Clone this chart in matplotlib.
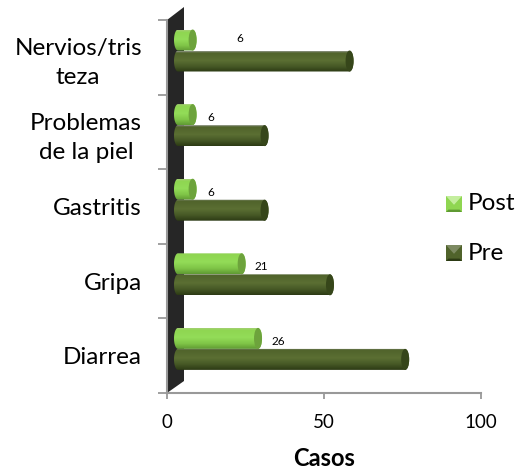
import numpy as np
import matplotlib
matplotlib.use("Agg")
import matplotlib.pyplot as plt
from matplotlib.colors import LinearSegmentedColormap
from matplotlib.patches import Polygon, Ellipse, Rectangle
from matplotlib.ticker import NullFormatter

plt.rcParams['font.family'] = ['Lato', 'DejaVu Sans']

categories = ["Nervios/tris\nteza", "Problemas\nde la piel", "Gastritis", "Gripa", "Diarrea"]
post_values = [6, 6, 6, 21, 26]
pre_values = [54, 28, 28, 48, 71]
x_ticks = [0, 50, 100]
series_names = ["Post", "Pre"]

W, H = 518, 470
fig = plt.figure(figsize=(W / 100, H / 100), dpi=100, facecolor="white")
ax = fig.add_axes([167 / W, (H - 393) / H, 314 / W, 373 / H])
n = len(categories)
ax.set_xlim(0, 100)
ax.set_ylim(n, 0)
PXX = 3.14      # pixels per x unit
PXY = 373 / n   # pixels per category band

# 3D projection of the original chart
floor_x = 7 / PXX
k = 3.27 / PXX
cap_pad = 3 / PXX
rx = 4 / PXX
bar_h = 21 / PXY
post_offset = 20 / PXY
pre_offset = 41 / PXY

post_cmap = LinearSegmentedColormap.from_list("post", [
    (0, "#a3cf73"), (0.10, "#8fd651"), (0.45, "#93dc58"), (0.75, "#7fc447"), (1, "#5f9a33")])
pre_cmap = LinearSegmentedColormap.from_list("pre", [
    (0, "#8f9585"), (0.08, "#50632b"), (0.45, "#5b6f33"), (0.75, "#455725"), (1, "#2c3a14")])
grad = np.linspace(0, 1, 64).reshape(-1, 1)

# back wall
wall = Polygon([(0, 0), (17 / PXX, -13 / PXY), (17 / PXX, n - 12 / PXY), (0, n)],
               closed=True, fc="#262626", ec="none", clip_on=False, zorder=1)
ax.add_patch(wall)


def cylinder(value, yc, cmap, cap, z):
    x0 = floor_x
    x1 = floor_x + value * k + cap_pad
    t = np.linspace(-np.pi / 2, np.pi / 2, 30)
    right = np.c_[x1 - rx + rx * np.cos(t), yc + bar_h / 2 * np.sin(t)]
    left = np.c_[x0 + rx - rx * np.cos(t[::-1]), yc + bar_h / 2 * np.sin(t[::-1])]
    outline = Polygon(np.r_[right, left], closed=True, fc="none", ec="none", zorder=z)
    ax.add_patch(outline)
    im = ax.imshow(grad, cmap=cmap, aspect="auto", zorder=z, interpolation="bilinear",
                   extent=(x0, x1, yc + bar_h / 2, yc - bar_h / 2), vmin=0, vmax=1)
    im.set_clip_path(outline)
    ax.add_patch(Ellipse((x1 - rx, yc), 2 * rx, bar_h, fc=cap, ec="none", zorder=z + 0.1))


for i in range(n):
    cylinder(post_values[i], i + post_offset, post_cmap, "#6da33c", 3)
    cylinder(pre_values[i], i + pre_offset, pre_cmap, "#36461a", 4)
    first = categories[i].startswith("Nervios")
    lx = floor_x + post_values[i] * k + cap_pad + 14 / PXX + (29 / PXX if first else 0)
    if post_values[i] > 6:
        lx += 2 / PXX
    ax.text(lx, i + (18 if first else 23) / PXY, str(post_values[i]),
            fontsize=8.5, ha="center", va="center", color="black", zorder=6)

# axes
for s in ("top", "right"):
    ax.spines[s].set_visible(False)
for s in ("left", "bottom"):
    ax.spines[s].set_color("#999999")
    ax.spines[s].set_linewidth(1.5)
    ax.spines[s].set_zorder(5)
ax.set_xticks(x_ticks)
ax.set_xticklabels([str(v) for v in x_ticks], fontsize=13.5, color="black")
ax.tick_params(axis="x", length=4.5, width=1.3, color="#999999", pad=10.5)
ax.set_yticks(np.arange(n + 1))
ax.yaxis.set_major_formatter(NullFormatter())
ax.set_yticks(np.arange(n) + 0.5, minor=True)
ax.set_yticklabels(categories, minor=True, fontsize=17.5, color="black", linespacing=1.45)
for lab in ax.get_yticklabels(minor=True):
    lab.set_multialignment("center")
ax.tick_params(axis="y", which="major", length=6.5, width=1.3, color="#999999")
ax.tick_params(axis="y", which="minor", length=0, pad=18)
fig.text(324 / W, 1 - 458 / H, "Casos", fontsize=17, fontweight="bold", ha="center", va="center")

# legend
legend_colors = [("#8fd651", "#c4ee9e", "#5f9a33"), ("#50632b", "#7d8a62", "#2c3a14")]
for name, cols, ytop in zip(series_names, legend_colors, (196, 245)):
    x0, y0, s = 446 / W, 1 - (ytop + 16) / H, 16
    sx, sy = s / W, s / H
    fig.add_artist(Rectangle((x0, y0), sx, sy, transform=fig.transFigure, fc=cols[0], ec="none"))
    fig.add_artist(Polygon([(x0, y0 + sy), (x0 + sx, y0 + sy), (x0 + sx / 2, y0 + sy * 0.45)],
                           transform=fig.transFigure, fc=cols[1], ec="none"))
    fig.add_artist(Polygon([(x0, y0), (x0 + sx, y0), (x0 + sx * 0.85, y0 + sy * 0.15), (x0 + sx * 0.15, y0 + sy * 0.15)],
                           transform=fig.transFigure, fc=cols[2], ec="none"))
    fig.text(468 / W, y0 + sy / 2, name, fontsize=17.5, ha="left", va="center", color="black")

ax.set_xlim(0, 100)
ax.set_ylim(n, 0)
fig.savefig("out.png", dpi=100, facecolor="white")
